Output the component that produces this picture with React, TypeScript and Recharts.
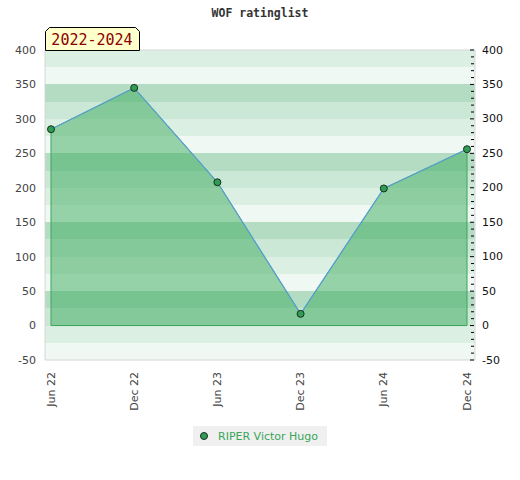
import React from 'react';
import {
  ComposedChart,
  Area,
  Line,
  XAxis,
  YAxis,
  CartesianGrid,
  ReferenceLine,
} from 'recharts';

const categories = ['Jun 22', 'Dec 22', 'Jun 23', 'Dec 23', 'Jun 24', 'Dec 24'];
const ratings = [285, 345, 208, 17, 199, 256];
const seriesName = 'RIPER Victor Hugo';
const chartTitle = 'WOF ratinglist';
const periodLabel = '2022-2024';

const majorTicks = [-50, 0, 50, 100, 150, 200, 250, 300, 350, 400];
const bandTicks = [-50, -25, 0, 25, 50, 75, 100, 125, 150, 175, 200, 225, 250, 275, 300, 325, 350, 375, 400];
const minorTicks = [
  -50, -40, -30, -20, -10, 0, 10, 20, 30, 40, 50, 60, 70, 80, 90, 100, 110, 120, 130, 140, 150,
  160, 170, 180, 190, 200, 210, 220, 230, 240, 250, 260, 270, 280, 290, 300, 310, 320, 330, 340,
  350, 360, 370, 380, 390, 400,
];
const yDomain: [number, number] = [-50, 400];

const data = categories.map((c, i) => ({ label: c, value: ratings[i], right: ratings[i] }));

const bandFills = ['#dcefe3', '#eff8f2', '#b3dcc3', '#cbe7d6'];
const GREEN = '#3aa55a';

const XTick = (props: any) => {
  const { x, y, payload } = props;
  return (
    <text
      x={x}
      y={y + 12}
      transform={`rotate(-90, ${x}, ${y + 12})`}
      textAnchor="end"
      dominantBaseline="central"
      fontSize={11}
      fontFamily="DejaVu Sans"
      fill="#444"
    >
      {payload.value}
    </text>
  );
};

const RightTick = (props: any) => {
  const { x, y, payload } = props;
  const isMajor = majorTicks.includes(payload.value);
  return (
    <g>
      <line x1={x - (isMajor ? 5 : 4)} x2={x - 1} y1={y} y2={y} stroke="#000" strokeWidth={1} />
      {isMajor && (
        <text
          x={x + 7}
          y={y}
          textAnchor="start"
          dominantBaseline="central"
          fontSize={11}
          fontFamily="DejaVu Sans"
          fill="#111"
        >
          {payload.value}
        </text>
      )}
    </g>
  );
};

export default function App() {
  return (
    <div style={{ position: 'absolute', left: 0, top: 0, width: 520, height: 480, background: '#fff' }}>
      <ComposedChart width={520} height={480} data={data} margin={{ top: 50, right: 0, bottom: 0, left: 0 }}>
        <CartesianGrid
          vertical={false}
          horizontal={true}
          stroke="none"
          horizontalFill={bandFills}
          fillOpacity={1}
        />
        <CartesianGrid
          stroke="#d6d6d6"
          strokeWidth={1}
          horizontalCoordinatesGenerator={({ offset }: any) => [offset.top, offset.top + offset.height]}
          verticalCoordinatesGenerator={({ offset }: any) => [offset.left, offset.left + offset.width]}
        />
        <XAxis
          dataKey="label"
          scale="point"
          padding={{ left: 6, right: 8 }}
          interval={0}
          tickLine={false}
          axisLine={false}
          tickSize={0}
          tickMargin={0}
          height={120}
          tick={<XTick />}
        />
        <YAxis
          domain={yDomain}
          ticks={bandTicks}
          interval={0}
          width={45}
          tickLine={false}
          axisLine={false}
          tickSize={0}
          tickMargin={9}
          tickFormatter={(v: number) => (majorTicks.includes(v) ? String(v) : '')}
          tick={{ fontSize: 11, fontFamily: 'DejaVu Sans', fill: '#444' }}
        />
        <YAxis
          yAxisId="right"
          orientation="right"
          domain={yDomain}
          ticks={minorTicks}
          interval={0}
          width={45}
          tickLine={false}
          axisLine={false}
          tickSize={0}
          tickMargin={0}
          tick={<RightTick />}
        />
        <Area
          dataKey="value"
          type="linear"
          baseValue={0}
          fill="#3dac5e"
          fillOpacity={0.5}
          stroke={GREEN}
          strokeWidth={1}
          isAnimationActive={false}
          dot={false}
          activeDot={false}
        />
        <ReferenceLine
          segment={[{ x: categories[0], y: 0 }, { x: categories[categories.length - 1], y: 0 }]}
          stroke={GREEN}
          strokeWidth={1}
        />
        <ReferenceLine
          segment={[{ x: categories[0], y: 0 }, { x: categories[0], y: ratings[0] }]}
          stroke={GREEN}
          strokeWidth={1}
        />
        <ReferenceLine
          segment={[
            { x: categories[categories.length - 1], y: 0 },
            { x: categories[categories.length - 1], y: ratings[ratings.length - 1] },
          ]}
          stroke={GREEN}
          strokeWidth={1}
        />
        <Line
          yAxisId="right"
          dataKey="right"
          type="linear"
          stroke="none"
          dot={false}
          activeDot={false}
          isAnimationActive={false}
        />
        <Line
          dataKey="value"
          name={seriesName}
          type="linear"
          stroke="#5b9fd6"
          strokeWidth={1.2}
          isAnimationActive={false}
          dot={{ r: 3.5, fill: '#2f9e55', stroke: '#1b2e20', strokeWidth: 1 }}
          activeDot={false}
        />
      </ComposedChart>

      <svg
        width={520}
        height={52}
        style={{ position: 'absolute', left: 0, top: 0, pointerEvents: 'none' }}
      >
        <text
          x={260}
          y={13}
          textAnchor="middle"
          dominantBaseline="central"
          fontFamily="DejaVu Sans Mono"
          fontWeight="bold"
          fontSize={11.5}
          fill="#333"
        >
          {chartTitle}
        </text>
        <path d="M45.5,50.5 L45.5,31.5 L49.5,27.5 L135.5,27.5 L139.5,31.5 L139.5,50.5 Z" fill="#ffffcc" stroke="#000" strokeWidth={1} />
        <text
          x={92}
          y={40}
          textAnchor="middle"
          dominantBaseline="central"
          fontFamily="DejaVu Sans Mono"
          fontSize={15}
          fill="#8b0000"
        >
          {periodLabel}
        </text>
      </svg>

      <div
        style={{
          position: 'absolute',
          left: 193,
          top: 426,
          width: 134,
          height: 20,
          background: '#f0f0f0',
          display: 'flex',
          alignItems: 'center',
          fontFamily: 'DejaVu Sans',
          fontSize: 11,
          color: GREEN,
        }}
      >
        <svg width={22} height={20} style={{ flex: 'none' }}>
          <circle cx={11} cy={10} r={3.5} fill="#2f9e55" stroke="#1b2e20" strokeWidth={1} />
        </svg>
        <span style={{ marginLeft: 3, whiteSpace: 'nowrap' }}>{seriesName}</span>
      </div>
    </div>
  );
}
